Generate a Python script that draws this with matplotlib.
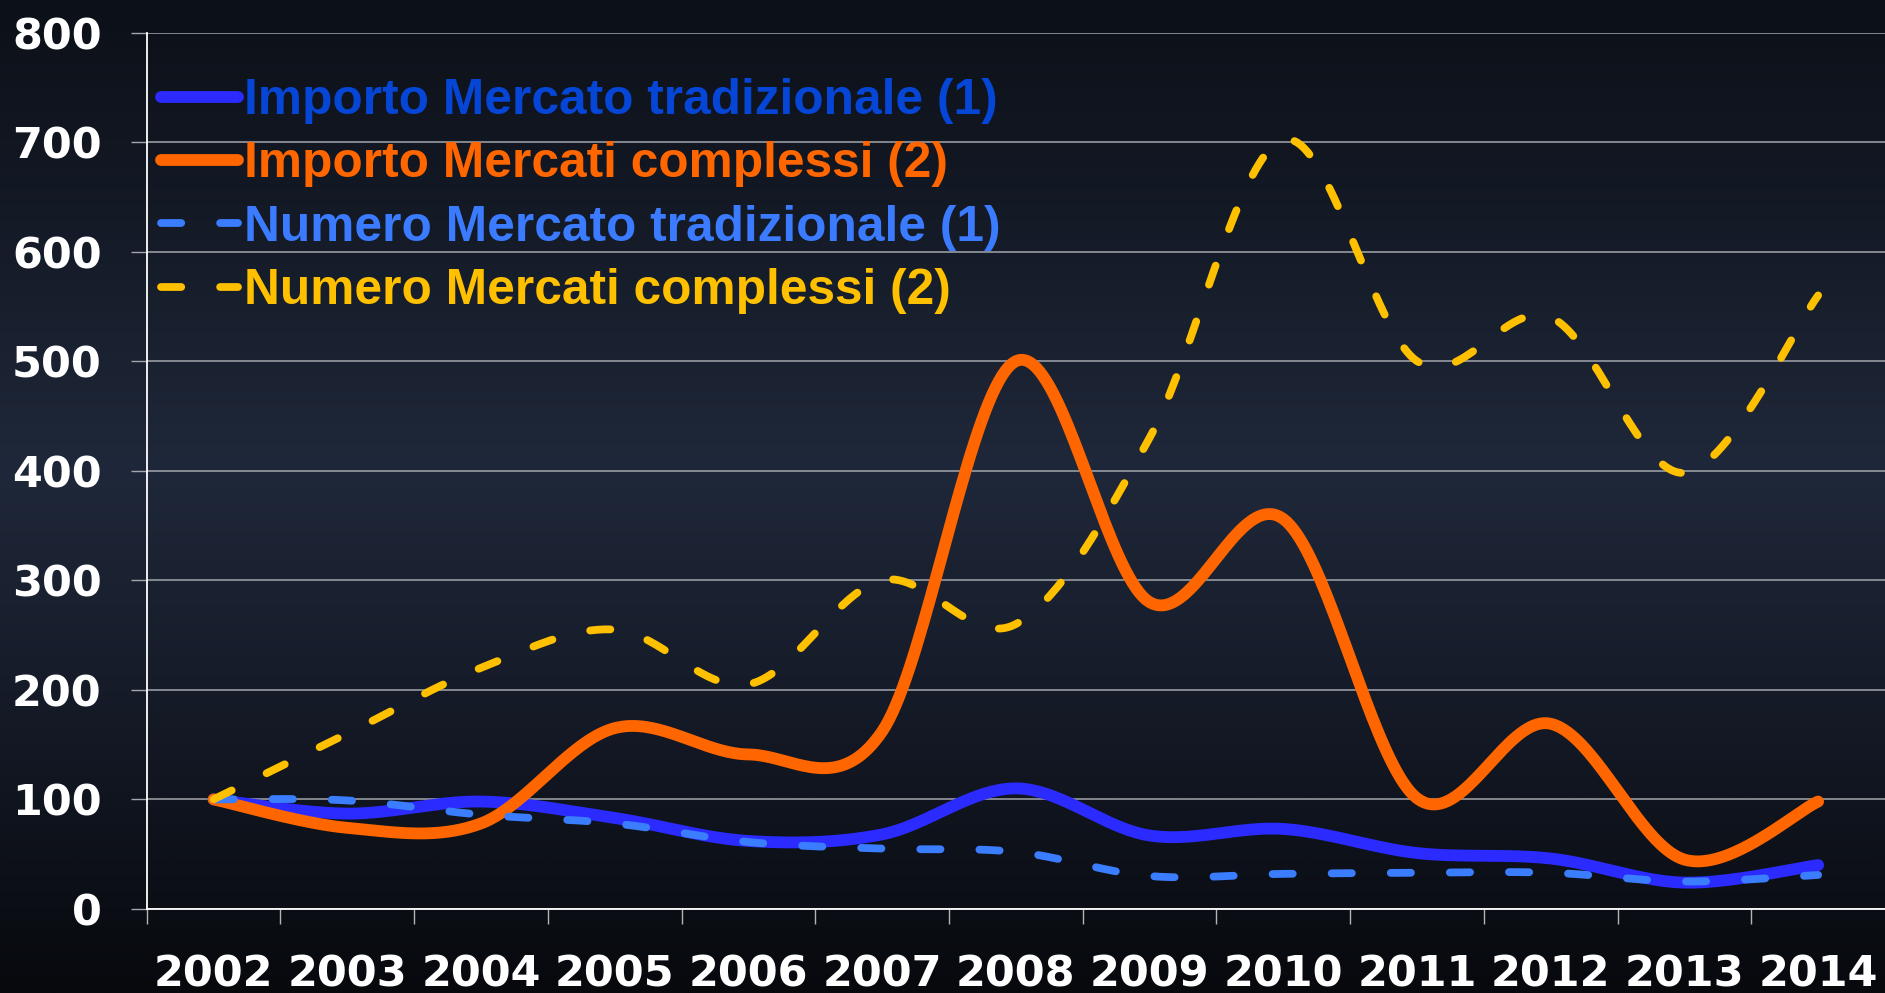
import numpy as np
import matplotlib
matplotlib.use("Agg")
import matplotlib.pyplot as plt
from matplotlib.colors import LinearSegmentedColormap

# ---------------- data ----------------
years = ["2002", "2003", "2004", "2005", "2006", "2007", "2008",
         "2009", "2010", "2011", "2012", "2013", "2014"]
importo_tradizionale = [100, 87, 98, 83, 62, 68, 110, 67, 73, 51, 46, 24, 40]
importo_complessi = [100, 74, 78, 165, 141, 162, 500, 280, 356, 101, 169, 45, 98]
numero_tradizionale = [100, 99, 86, 78, 61, 55, 52, 30, 32, 33, 33, 25, 31]
numero_complessi = [100, 160, 220, 255, 205, 300, 260, 430, 702, 500, 540, 398, 560]
series_labels = ["Importo Mercato tradizionale (1)",
                 "Importo Mercati complessi (2)",
                 "Numero Mercato tradizionale (1)",
                 "Numero Mercati complessi (2)"]
y_ticks = [0, 100, 200, 300, 400, 500, 600, 700, 800]

line_colors = ["#2B2BFF", "#FF6600", "#3A7DFF", "#FFC000"]
text_colors = ["#0646D6", "#FF6600", "#3B7BFF", "#FFC000"]


def smooth(xs, ys, n=40):
    """Excel-like smoothed line (Catmull-Rom / cubic Bezier through points)."""
    P = np.column_stack([np.asarray(xs, float), np.asarray(ys, float)])
    m = len(P)
    out = []
    t = np.linspace(0, 1, n)[:, None]
    for i in range(m - 1):
        p0 = P[max(i - 1, 0)]
        p1 = P[i]
        p2 = P[i + 1]
        p3 = P[min(i + 2, m - 1)]
        c1 = p1 + (p2 - p0) / 6.0
        c2 = p2 - (p3 - p1) / 6.0
        seg = ((1 - t) ** 3) * p1 + 3 * ((1 - t) ** 2) * t * c1 + 3 * (1 - t) * t ** 2 * c2 + t ** 3 * p2
        out.append(seg if i == 0 else seg[1:])
    out = np.vstack(out)
    return out[:, 0], out[:, 1]


W, H = 1885, 993
fig = plt.figure(figsize=(W / 100, H / 100), dpi=100)

# background gradient
bg = fig.add_axes([0, 0, 1, 1], zorder=0)
cmap = LinearSegmentedColormap.from_list(
    "bg", [(0.0, "#0C1018"), (0.22, "#141A26"), (0.47, "#1F283A"),
           (0.75, "#131824"), (1.0, "#07090D")])
grad = np.linspace(0, 1, 512)[:, None]
bg.imshow(grad, aspect="auto", cmap=cmap, extent=[0, 1, 0, 1], origin="upper")
bg.axis("off")

left = 146.7 / W
bottom = (H - 908.9) / H
top = (H - 32.5) / H
ax = fig.add_axes([left, bottom, 1 - left, top - bottom], zorder=1)
ax.set_facecolor("none")

x = np.arange(len(years))
all_series = [importo_tradizionale, importo_complessi, numero_tradizionale, numero_complessi]
styles = [dict(lw=8.5, ls="-"),
          dict(lw=8.5, ls="-"),
          dict(lw=5.6, ls=(0, (2.6, 5.0))),
          dict(lw=5.6, ls=(0, (2.6, 5.0)))]
for vals, col, lab, st in zip(all_series, line_colors, series_labels, styles):
    sx, sy = smooth(x, vals)
    ax.plot(sx, sy, color=col, lw=st["lw"], ls=st["ls"], label=lab,
            solid_capstyle="round", dash_capstyle="round", clip_on=True, zorder=3)

ax.set_xlim(-0.5, 12.5)
ax.set_ylim(0, 800)

for s in ["top", "right"]:
    ax.spines[s].set_visible(False)
for s in ["left", "bottom"]:
    ax.spines[s].set_color("white")
    ax.spines[s].set_linewidth(1.3)

ax.set_yticks(y_ticks)
ax.set_yticklabels([str(v) for v in y_ticks])
ax.yaxis.grid(True, color="#A3A6AC", lw=1.1)
ax.set_axisbelow(True)
ax.tick_params(axis="y", length=11.5, width=1.0, color="#A3A6AC", pad=21,
               labelcolor="white", labelsize=31)

ax.set_xticks(np.arange(-0.5, 12.0, 1.0))
ax.set_xticklabels([])
ax.tick_params(axis="x", which="major", length=11, width=1.0, color="#B5B5B5")
ax.set_xticks(x, minor=True)
ax.set_xticklabels(years, minor=True)
ax.tick_params(axis="x", which="minor", length=0, pad=32, labelcolor="white", labelsize=31)

for lbl in ax.get_xticklabels(minor=True) + ax.get_yticklabels():
    lbl.set_fontfamily("DejaVu Sans")
    lbl.set_fontweight("bold")

leg = ax.legend(loc="upper left", bbox_to_anchor=(161 / W, (H - 78) / H),
                bbox_transform=fig.transFigure, frameon=False,
                prop=dict(family="Liberation Sans", weight="bold", size=35.7),
                handlelength=1.55, handletextpad=0.12, labelspacing=0.35,
                borderpad=0, borderaxespad=0)
for txt, c in zip(leg.get_texts(), text_colors):
    txt.set_color(c)

fig.savefig("out.png", dpi=100)
